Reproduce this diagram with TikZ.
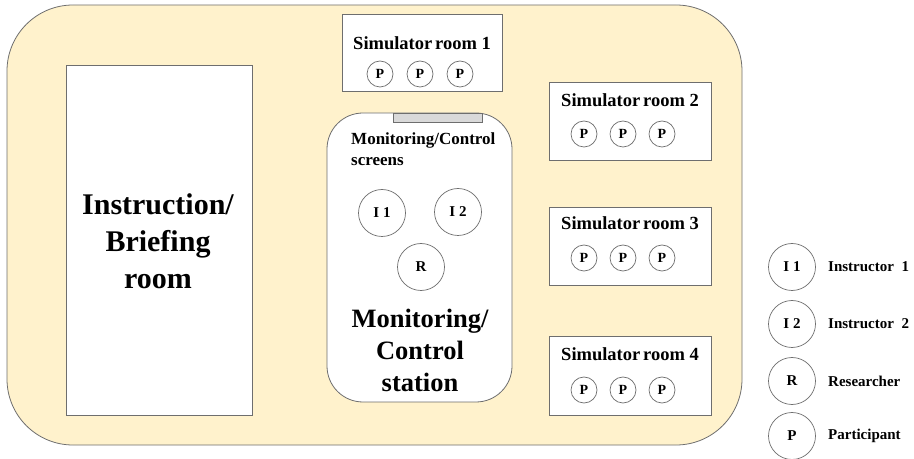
\documentclass[tikz,border=0pt]{standalone}
\usepackage{fontspec}
\setmainfont{Liberation Serif}
\definecolor{floor}{HTML}{FFF2CC}
\definecolor{edge}{HTML}{6E6E6E}
\definecolor{screen}{HTML}{D9D9D9}
\begin{document}
\begin{tikzpicture}[x=1bp,y=-1bp,
  room/.style={draw=edge,line width=0.8bp,fill=white},
  person/.style={circle,draw=edge,line width=0.7bp,fill=white,inner sep=0pt,
    minimum size=26bp,font=\fontsize{14bp}{16bp}\selectfont\bfseries},
  staff/.style={circle,draw=edge,line width=0.7bp,fill=white,inner sep=0pt,
    minimum size=47bp,font=\fontsize{15bp}{17bp}\selectfont\bfseries},
  title/.style={font=\fontsize{18.5bp}{22bp}\selectfont\bfseries,inner sep=0pt},
  bigtext/.style={align=center,inner sep=0pt},
  legendtext/.style={anchor=west,inner sep=0pt,font=\fontsize{15bp}{18bp}\selectfont\bfseries}]
\useasboundingbox (0,0) rectangle (914,459);

% building floor
\draw[draw=edge,line width=0.8bp,fill=floor,rounded corners=66bp] (7,5) rectangle (742,445);

% instruction / briefing room
\draw[room] (66,65) rectangle (252,415);
\node[bigtext,font=\fontsize{30bp}{37bp}\selectfont\bfseries] (brief) at (158,241)
  {Instruction/\\Briefing\\room};

% simulator rooms
\draw[room] (342,14) rectangle (502,91);
\node[title] (sim1) at (422,43) {Simulator\hspace{0.15em}room 1};
\node[person] (p11) at (380,74) {P};
\node[person] (p12) at (420,74) {P};
\node[person] (p13) at (460,74) {P};

\draw[room] (549,82) rectangle (711,160);
\node[title] (sim2) at (630,100) {Simulator\hspace{0.15em}room 2};
\node[person] (p21) at (584,134) {P};
\node[person] (p22) at (623,134) {P};
\node[person] (p23) at (662,134) {P};

\draw[room] (549,207) rectangle (711,285);
\node[title] (sim3) at (630,223) {Simulator\hspace{0.15em}room 3};
\node[person] (p31) at (584,258) {P};
\node[person] (p32) at (623,258) {P};
\node[person] (p33) at (662,258) {P};

\draw[room] (549,336) rectangle (711,415);
\node[title] (sim4) at (630,354) {Simulator\hspace{0.15em}room 4};
\node[person] (p41) at (584,390) {P};
\node[person] (p42) at (623,390) {P};
\node[person] (p43) at (662,390) {P};

% monitoring / control station
\draw[room,rounded corners=36bp] (327,113) rectangle (512,402);
\draw[draw=edge,line width=0.8bp,fill=screen] (393,113) rectangle (482,122);
\node[anchor=north west,align=left,inner sep=0pt,
  font=\fontsize{17bp}{21bp}\selectfont\bfseries] (screens) at (351,133)
  {Monitoring/Control\\screens};
\node[staff] (i1) at (382,213) {I 1};
\node[staff] (i2) at (458,212) {I 2};
\node[staff] (r) at (421,267) {R};
\node[bigtext,font=\fontsize{26.5bp}{32bp}\selectfont\bfseries] (station) at (420,350)
  {Monitoring/\\Control\\station};

% legend
\node[staff] (li1) at (792,267) {I 1};
\node[legendtext] (lt1) at (828,267) {Instructor\ \ 1};
\node[staff] (li2) at (792,324) {I 2};
\node[legendtext] (lt2) at (828,324) {Instructor\ \ 2};
\node[staff] (lr) at (792,381) {R};
\node[legendtext] (lt3) at (828,381) {Researcher};
\node[staff] (lp) at (792,436) {P};
\node[legendtext] (lt4) at (828,436) {Participant};
\end{tikzpicture}
\end{document}
